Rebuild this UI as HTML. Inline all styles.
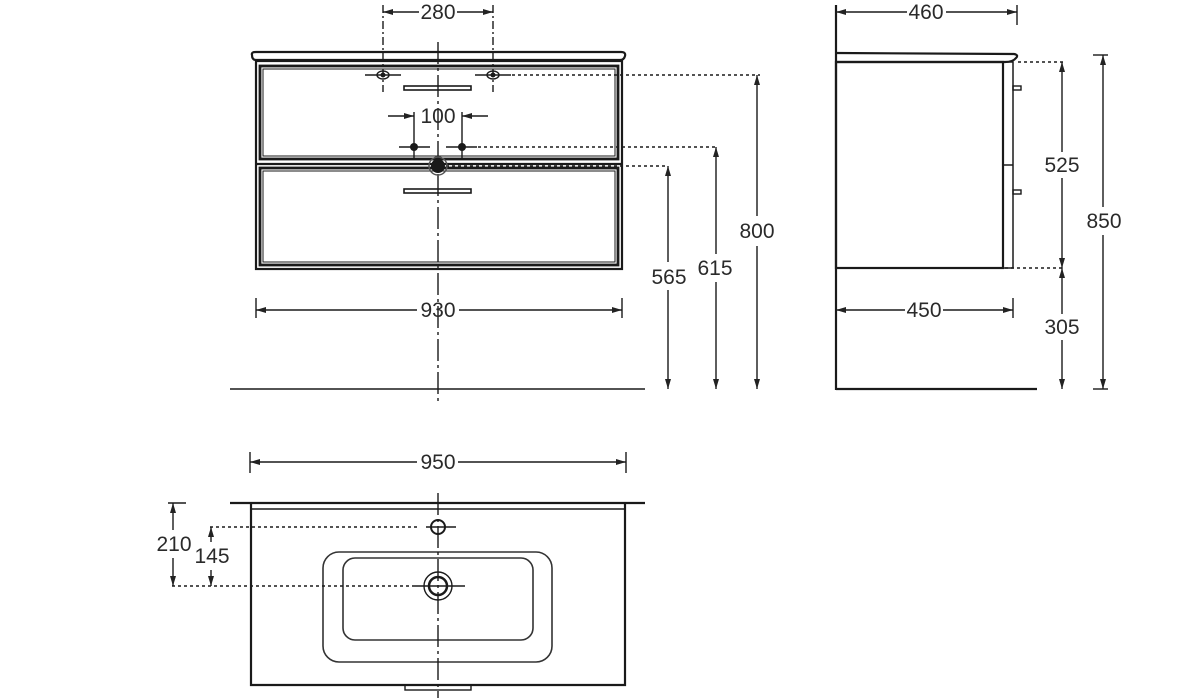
<!DOCTYPE html>
<html><head><style>body{margin:0;background:#fff}svg{display:block}text{font-family:"Liberation Sans",sans-serif;font-size:21px;fill:#2a2a2a}</style></head>
<body>
<svg width="1200" height="698" viewBox="0 0 1200 698" xmlns="http://www.w3.org/2000/svg">
<defs>
<marker id="a" viewBox="0 0 10 6" refX="10" refY="3" markerWidth="10" markerHeight="6" orient="auto-start-reverse" markerUnits="userSpaceOnUse"><path d="M0,0L10,3L0,6z" fill="#222"/></marker>
</defs>
<g stroke="#1a1a1a" fill="none" stroke-width="1.4">
<path d="M252,55 Q251,52 256,52 L621,52 Q626,52 625,56 Q624,60 620,60 L256,60 Q252,60 252,55z" stroke-width="2.2"/>
<rect x="256" y="61" width="366" height="208" stroke-width="2.2"/>
<rect x="260" y="66" width="358" height="93" stroke-width="2.8"/>
<rect x="263" y="69" width="352" height="87" stroke-width="1"/>
<line x1="256" y1="164" x2="622" y2="164" stroke-width="2.2"/>
<rect x="260" y="168" width="358" height="97" stroke-width="2.8"/>
<rect x="263" y="171" width="352" height="91" stroke-width="1"/>
<rect x="404" y="86" width="67" height="4" stroke-width="1.6"/>
<rect x="404" y="189" width="67" height="4" stroke-width="1.6"/>
<line x1="438" y1="42" x2="438" y2="402" stroke-dasharray="22,4,3,4"/>
<line x1="230" y1="389" x2="645" y2="389" stroke-width="1.6"/>
<line x1="383" y1="5" x2="383" y2="92" stroke-dasharray="8,3,2,3"/>
<line x1="493" y1="5" x2="493" y2="92" stroke-dasharray="8,3,2,3"/>
<line x1="383" y1="12" x2="419" y2="12" marker-start="url(#a)"/>
<line x1="457" y1="12" x2="493" y2="12" marker-end="url(#a)"/>
<ellipse cx="383" cy="75" rx="6" ry="4"/><ellipse cx="493" cy="75" rx="6" ry="4"/>
<line x1="365" y1="75" x2="401" y2="75"/><line x1="475" y1="75" x2="511" y2="75"/>
<line x1="512" y1="75" x2="760" y2="75" stroke-dasharray="3,3"/>
<line x1="388" y1="116" x2="414" y2="116" marker-end="url(#a)"/>
<line x1="488" y1="116" x2="462" y2="116" marker-end="url(#a)"/>
<line x1="414" y1="112" x2="414" y2="160"/><line x1="462" y1="112" x2="462" y2="160"/>
<line x1="399" y1="147" x2="430" y2="147"/><line x1="446" y1="147" x2="477" y2="147"/>
<line x1="478" y1="147" x2="716" y2="147" stroke-dasharray="3,3"/>
<line x1="446" y1="166" x2="668" y2="166" stroke-dasharray="3,3"/>
<line x1="668" y1="166" x2="668" y2="262" marker-start="url(#a)"/><line x1="668" y1="290" x2="668" y2="389" marker-end="url(#a)"/>
<line x1="716" y1="147" x2="716" y2="254" marker-start="url(#a)"/><line x1="716" y1="282" x2="716" y2="389" marker-end="url(#a)"/>
<line x1="757" y1="75" x2="757" y2="216" marker-start="url(#a)"/><line x1="757" y1="246" x2="757" y2="389" marker-end="url(#a)"/>
<line x1="256" y1="298" x2="256" y2="318"/><line x1="622" y1="298" x2="622" y2="318"/>
<line x1="256" y1="310" x2="417" y2="310" marker-start="url(#a)"/><line x1="459" y1="310" x2="622" y2="310" marker-end="url(#a)"/>
<line x1="836" y1="5" x2="836" y2="390" stroke-width="2.2"/>
<line x1="836" y1="389" x2="1037" y2="389" stroke-width="2.2"/>
<path d="M836,53 L1014,54 Q1019,55 1016,58 Q1013,62 1005,62 L836,62" stroke-width="2.2"/>
<rect x="836" y="62" width="167" height="206" stroke-width="2.2"/>
<rect x="1003" y="62" width="10" height="206" stroke-width="1.5"/>
<line x1="1003" y1="165" x2="1013" y2="165" stroke-width="1.5"/>
<rect x="1013" y="86" width="8" height="4"/><rect x="1013" y="190" width="8" height="4"/>
<line x1="1017" y1="5" x2="1017" y2="25"/>
<line x1="836" y1="12" x2="907" y2="12" marker-start="url(#a)"/><line x1="946" y1="12" x2="1017" y2="12" marker-end="url(#a)"/>
<line x1="1013" y1="298" x2="1013" y2="318"/>
<line x1="836" y1="310" x2="905" y2="310" marker-start="url(#a)"/><line x1="943" y1="310" x2="1013" y2="310" marker-end="url(#a)"/>
<line x1="1018" y1="62" x2="1065" y2="62" stroke-dasharray="3,3"/>
<line x1="1005" y1="268" x2="1065" y2="268" stroke-dasharray="3,3"/>
<line x1="1062" y1="62" x2="1062" y2="152" marker-start="url(#a)"/><line x1="1062" y1="178" x2="1062" y2="268" marker-end="url(#a)"/>
<line x1="1062" y1="268" x2="1062" y2="314" marker-start="url(#a)"/><line x1="1062" y1="340" x2="1062" y2="389" marker-end="url(#a)"/>
<line x1="1093" y1="55" x2="1108" y2="55"/><line x1="1093" y1="389" x2="1108" y2="389"/>
<line x1="1103" y1="55" x2="1103" y2="207" marker-start="url(#a)"/><line x1="1103" y1="235" x2="1103" y2="389" marker-end="url(#a)"/>
<line x1="250" y1="452" x2="250" y2="473"/><line x1="626" y1="452" x2="626" y2="473"/>
<line x1="250" y1="462" x2="417" y2="462" marker-start="url(#a)"/><line x1="458" y1="462" x2="626" y2="462" marker-end="url(#a)"/>
<line x1="230" y1="503" x2="645" y2="503" stroke-width="2.2"/>
<path d="M251,503 L251,685 L625,685 L625,503" stroke-width="2.2"/>
<line x1="251" y1="509" x2="625" y2="509"/>
<rect x="323" y="552" width="229" height="110" rx="16" stroke="#333" stroke-width="1.6"/>
<rect x="343" y="558" width="190" height="82" rx="12" stroke="#333" stroke-width="1.6"/>
<rect x="405" y="685" width="66" height="5"/>
<line x1="438" y1="493" x2="438" y2="698" stroke-dasharray="22,4,3,4"/>
<circle cx="438" cy="527" r="7" stroke-width="2"/>
<line x1="426" y1="527" x2="456" y2="527"/>
<circle cx="438" cy="586" r="14"/><circle cx="438" cy="586" r="9" stroke-width="2.5"/>
<line x1="412" y1="586" x2="465" y2="586"/>
<line x1="210" y1="527" x2="420" y2="527" stroke-dasharray="3,3"/>
<line x1="172" y1="586" x2="410" y2="586" stroke-dasharray="3,3"/>
<line x1="168" y1="503" x2="186" y2="503"/>
<line x1="173" y1="503" x2="173" y2="530" marker-start="url(#a)"/><line x1="173" y1="558" x2="173" y2="586" marker-end="url(#a)"/>
<line x1="211" y1="527" x2="211" y2="542" marker-start="url(#a)"/><line x1="211" y1="570" x2="211" y2="586" marker-end="url(#a)"/>
</g>
<g fill="#1a1a1a">
<circle cx="383" cy="75" r="2.5"/><circle cx="493" cy="75" r="2.5"/>
<circle cx="414" cy="147" r="4"/><circle cx="462" cy="147" r="4"/>
<circle cx="438" cy="166" r="7"/>
</g>
<circle cx="438" cy="166" r="9" fill="none" stroke="#555" stroke-width="1.5"/>
<g text-anchor="middle">
<text x="438" y="19">280</text>
<text x="438" y="123">100</text>
<text x="669" y="284">565</text>
<text x="715" y="275">615</text>
<text x="757" y="238">800</text>
<text x="438" y="317">930</text>
<text x="926" y="19">460</text>
<text x="924" y="317">450</text>
<text x="1062" y="172">525</text>
<text x="1062" y="334">305</text>
<text x="1104" y="228">850</text>
<text x="438" y="469">950</text>
<text x="174" y="551">210</text>
<text x="212" y="563">145</text>
</g>
</svg>
</body></html>
